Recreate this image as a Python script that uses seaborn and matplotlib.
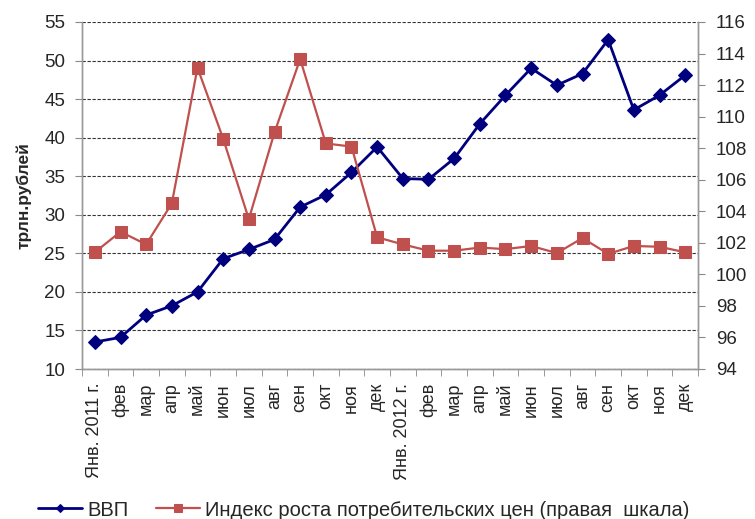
import numpy as np
import pandas as pd

import matplotlib
matplotlib.use("Agg")
import matplotlib.pyplot as plt
import seaborn as sns

# Подписи месяцев
months = ["Янв. 2011 г.", "фев", "мар", "апр", "май", "июн", "июл", "авг", "сен", "окт", "ноя", "дек",
          "Янв. 2012 г.", "фев", "мар", "апр", "май", "июн", "июл", "авг", "сен", "окт", "ноя", "дек"]

# ВВП, трлн. рублей (левая шкала)
vvp = [13.5, 14.1, 17.0, 18.2, 20.0, 24.3, 25.5, 26.8, 31.0, 32.6, 35.5, 38.8,
       34.7, 34.6, 37.3, 41.8, 45.5, 49.0, 46.8, 48.3, 52.7, 43.6, 45.5, 48.1]

# Индекс роста потребительских цен (правая шкала)
cpi = [101.4, 102.7, 101.9, 104.5, 113.1, 108.6, 103.5, 109.0, 113.65, 108.3, 108.1, 102.35,
       101.9, 101.5, 101.5, 101.7, 101.6, 101.8, 101.35, 102.3, 101.3, 101.8, 101.75, 101.4]

df = pd.DataFrame({"pos": np.arange(len(months)), "month": months, "vvp": vvp, "cpi": cpi})

sns.set_style("white")
plt.rcParams["font.family"] = ["Liberation Sans", "DejaVu Sans"]

fig = plt.figure(figsize=(7.55, 5.19), dpi=100)
ax = fig.add_axes([82 / 755, 1 - 369 / 519, (698 - 82) / 755, (369 - 22) / 519])
ax2 = ax.twinx()

blue = "#00007F"
red = "#C0504D"

sns.lineplot(data=df, x="pos", y="vvp", ax=ax, color=blue, linewidth=2,
             marker="D", markersize=7, markeredgecolor=blue, label="ВВП", legend=False)
sns.lineplot(data=df, x="pos", y="cpi", ax=ax2, color=red, linewidth=1.6,
             marker="s", markersize=8.5, markeredgecolor=red,
             label="Индекс роста потребительских цен (правая  шкала)", legend=False)

# Левая ось
ax.set_ylim(10, 55)
ax.set_yticks(np.arange(10, 56, 5))
ax.set_ylabel("трлн.рублей", fontsize=12.5, fontweight="bold", labelpad=9)
ax.yaxis.grid(True, color="#333333", linestyle=(0, (3, 1.5)), linewidth=0.8)
ax.set_axisbelow(True)

# Правая ось
ax2.set_ylim(94, 116)
ax2.set_yticks(np.arange(94, 117, 2))
ax2.set_ylabel("")
ax2.grid(False)

# Ось X
ax.set_xlim(-0.5, len(months) - 0.5)
ax.set_xticks(df["pos"])
ax.set_xticklabels(months, rotation=90, fontsize=13)
ax.set_xticks(np.arange(-0.5, len(months), 1), minor=True)
ax.tick_params(axis="x", which="major", length=0, pad=10)
ax.tick_params(axis="x", which="minor", length=5, color="#888888", direction="out", bottom=True)
ax.set_xlabel("")

ax.tick_params(axis="y", labelsize=13.5, length=5, color="#888888", direction="out", left=True, pad=7)
ax2.tick_params(axis="y", labelsize=13.5, length=5, color="#888888", direction="out", right=True, pad=8)

for a in (ax, ax2):
    a.spines["top"].set_visible(False)
    for s in ("left", "right", "bottom"):
        a.spines[s].set_color("#999999")
        a.spines[s].set_linewidth(1)

h1, l1 = ax.get_legend_handles_labels()
h2, l2 = ax2.get_legend_handles_labels()
leg = fig.legend(h1 + h2, l1 + l2, loc="center left", bbox_to_anchor=(38 / 755, 1 - 510 / 519), ncol=2,
                 frameon=False, fontsize=14.5, handlelength=2.2, columnspacing=1.35, handletextpad=0.25,
                 borderpad=0, borderaxespad=0, markerscale=0.6)

fig.savefig("out.png", dpi=100)
